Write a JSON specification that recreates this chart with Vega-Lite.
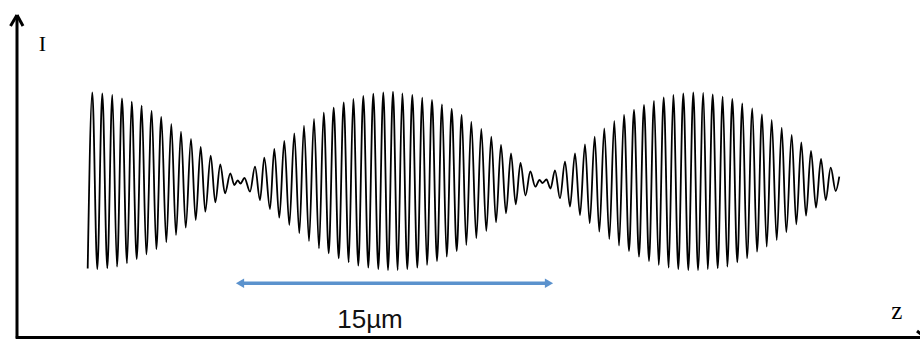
{
  "$schema": "https://vega.github.io/schema/vega-lite/v6.json",
  "width": 920,
  "height": 340,
  "autosize": {"type": "fit", "contains": "padding"},
  "padding": 0,
  "background": "white",
  "config": {"view": {"stroke": null}},
  "datasets": {
    "wave": [
      {"z": 3.535, "I": 0.685}, {"z": 3.765, "I": 2.447}, {"z": 4.015, "I": 0.68}, {"z": 4.265, "I": 2.437},
      {"z": 4.515, "I": 0.687}, {"z": 4.765, "I": 2.42}, {"z": 5.0, "I": 0.703}, {"z": 5.25, "I": 2.387},
      {"z": 5.5, "I": 0.737}, {"z": 5.735, "I": 2.353}, {"z": 5.985, "I": 0.78}, {"z": 6.235, "I": 2.313},
      {"z": 6.465, "I": 0.827}, {"z": 6.735, "I": 2.26}, {"z": 6.965, "I": 0.88}, {"z": 7.215, "I": 2.2},
      {"z": 7.465, "I": 0.947}, {"z": 7.715, "I": 2.13}, {"z": 7.95, "I": 1.02}, {"z": 8.2, "I": 2.053},
      {"z": 8.435, "I": 1.093}, {"z": 8.7, "I": 1.98}, {"z": 8.935, "I": 1.17}, {"z": 9.185, "I": 1.9},
      {"z": 9.415, "I": 1.253}, {"z": 9.685, "I": 1.813}, {"z": 9.915, "I": 1.347}, {"z": 10.165, "I": 1.727},
      {"z": 10.4, "I": 1.437}, {"z": 10.665, "I": 1.637}, {"z": 10.865, "I": 1.52}, {"z": 11.035, "I": 1.565},
      {"z": 11.175, "I": 1.535}, {"z": 11.375, "I": 1.59}, {"z": 11.65, "I": 1.453},
      {"z": 11.9, "I": 1.703}, {"z": 12.15, "I": 1.37}, {"z": 12.365, "I": 1.793}, {"z": 12.65, "I": 1.28},
      {"z": 12.865, "I": 1.88}, {"z": 13.115, "I": 1.193}, {"z": 13.365, "I": 1.96}, {"z": 13.615, "I": 1.12},
      {"z": 13.865, "I": 2.037}, {"z": 14.115, "I": 1.037}, {"z": 14.35, "I": 2.113}, {"z": 14.6, "I": 0.96},
      {"z": 14.85, "I": 2.18}, {"z": 15.1, "I": 0.887}, {"z": 15.335, "I": 2.243}, {"z": 15.585, "I": 0.837},
      {"z": 15.835, "I": 2.293}, {"z": 16.085, "I": 0.787}, {"z": 16.335, "I": 2.347}, {"z": 16.585, "I": 0.747},
      {"z": 16.815, "I": 2.38}, {"z": 17.065, "I": 0.713}, {"z": 17.315, "I": 2.41}, {"z": 17.565, "I": 0.693},
      {"z": 17.815, "I": 2.433}, {"z": 18.065, "I": 0.68}, {"z": 18.315, "I": 2.447}, {"z": 18.55, "I": 0.67},
      {"z": 18.8, "I": 2.453}, {"z": 19.035, "I": 0.67}, {"z": 19.265, "I": 2.437}, {"z": 19.515, "I": 0.68},
      {"z": 19.765, "I": 2.42}, {"z": 20.015, "I": 0.693}, {"z": 20.265, "I": 2.393}, {"z": 20.5, "I": 0.72},
      {"z": 20.75, "I": 2.37}, {"z": 21.0, "I": 0.76}, {"z": 21.25, "I": 2.327}, {"z": 21.485, "I": 0.803},
      {"z": 21.735, "I": 2.28}, {"z": 21.985, "I": 0.86}, {"z": 22.235, "I": 2.22}, {"z": 22.465, "I": 0.92},
      {"z": 22.715, "I": 2.153}, {"z": 22.965, "I": 0.987}, {"z": 23.215, "I": 2.08}, {"z": 23.465, "I": 1.06},
      {"z": 23.715, "I": 2.003}, {"z": 23.95, "I": 1.147}, {"z": 24.2, "I": 1.92}, {"z": 24.45, "I": 1.237},
      {"z": 24.7, "I": 1.837}, {"z": 24.935, "I": 1.327}, {"z": 25.175, "I": 1.74}, {"z": 25.425, "I": 1.415},
      {"z": 25.665, "I": 1.655}, {"z": 25.915, "I": 1.503}, {"z": 26.125, "I": 1.57}, {"z": 26.275, "I": 1.54},
      {"z": 26.475, "I": 1.575}, {"z": 26.675, "I": 1.485},
      {"z": 26.9, "I": 1.667}, {"z": 27.15, "I": 1.387}, {"z": 27.4, "I": 1.753}, {"z": 27.65, "I": 1.303},
      {"z": 27.9, "I": 1.837}, {"z": 28.15, "I": 1.22}, {"z": 28.4, "I": 1.927}, {"z": 28.635, "I": 1.137},
      {"z": 28.885, "I": 2.003}, {"z": 29.115, "I": 1.053}, {"z": 29.365, "I": 2.087}, {"z": 29.615, "I": 0.98},
      {"z": 29.865, "I": 2.16}, {"z": 30.1, "I": 0.913}, {"z": 30.35, "I": 2.22}, {"z": 30.6, "I": 0.86},
      {"z": 30.85, "I": 2.27}, {"z": 31.1, "I": 0.803}, {"z": 31.35, "I": 2.32}, {"z": 31.6, "I": 0.76},
      {"z": 31.85, "I": 2.36}, {"z": 32.085, "I": 0.72}, {"z": 32.335, "I": 2.397}, {"z": 32.585, "I": 0.693},
      {"z": 32.815, "I": 2.42}, {"z": 33.065, "I": 0.68}, {"z": 33.315, "I": 2.437}, {"z": 33.565, "I": 0.67},
      {"z": 33.815, "I": 2.447}, {"z": 34.05, "I": 0.67}, {"z": 34.315, "I": 2.442}, {"z": 34.535, "I": 0.68},
      {"z": 34.785, "I": 2.427}, {"z": 35.035, "I": 0.687}, {"z": 35.285, "I": 2.403}, {"z": 35.515, "I": 0.703},
      {"z": 35.765, "I": 2.38}, {"z": 36.015, "I": 0.747}, {"z": 36.265, "I": 2.337}, {"z": 36.5, "I": 0.787},
      {"z": 36.765, "I": 2.287}, {"z": 37.0, "I": 0.853}, {"z": 37.25, "I": 2.227}, {"z": 37.485, "I": 0.903},
      {"z": 37.735, "I": 2.17}, {"z": 37.985, "I": 0.97}, {"z": 38.235, "I": 2.093}, {"z": 38.465, "I": 1.047},
      {"z": 38.735, "I": 2.02}, {"z": 38.965, "I": 1.127}, {"z": 39.215, "I": 1.947}, {"z": 39.45, "I": 1.213},
      {"z": 39.7, "I": 1.86}, {"z": 39.95, "I": 1.293}, {"z": 40.2, "I": 1.78}, {"z": 40.435, "I": 1.37},
      {"z": 40.685, "I": 1.693}, {"z": 40.935, "I": 1.46}, {"z": 41.115, "I": 1.603}
    ],
    "axes": [
      {"z": 0, "I": -0.015, "z2": 0, "I2": 3.22},
      {"z": 0, "I": 3.22, "z2": -0.325, "I2": 3.11},
      {"z": 0, "I": 3.22, "z2": 0.3, "I2": 3.11},
      {"z": -0.06, "I": -0.005, "z2": 45.4, "I2": -0.005},
      {"z": 45.4, "I": -0.005, "z2": 45.0, "I2": 0.06}
    ],
    "span": [
      {"z": 11.3, "I": 0.537, "z2": 26.4, "I2": 0.537}
    ],
    "heads": [
      {"z": 11.15, "I": 0.537, "dir": "left"},
      {"z": 26.6, "I": 0.537, "dir": "right"}
    ],
    "ylab": [
      {"z": 1.275, "I": 2.863, "t": "I"}
    ],
    "xlab": [
      {"z": 43.985, "I": 0.185, "t": "z"}
    ],
    "sans": [
      {"z": 17.65, "I": 0.087, "t": "15µm"}
    ]
  },
  "layer": [
    {
      "data": {"name": "axes"},
      "mark": {"type": "rule", "color": "#000000", "strokeWidth": 3, "strokeCap": "butt", "clip": true},
      "encoding": {
        "x": {"field": "z", "type": "quantitative", "scale": {"domain": [-0.85, 45.15], "nice": false, "zero": false}, "axis": null},
        "y": {"field": "I", "type": "quantitative", "scale": {"domain": [-0.03, 3.37], "nice": false, "zero": false}, "axis": null},
        "x2": {"field": "z2"},
        "y2": {"field": "I2"}
      }
    },
    {
      "data": {"name": "wave"},
      "mark": {"type": "line", "color": "#000000", "strokeWidth": 1.8, "interpolate": "monotone"},
      "encoding": {
        "x": {"field": "z", "type": "quantitative", "scale": {"domain": [-0.85, 45.15], "nice": false, "zero": false}, "axis": null},
        "y": {"field": "I", "type": "quantitative", "scale": {"domain": [-0.03, 3.37], "nice": false, "zero": false}, "axis": null}
      }
    },
    {
      "data": {"name": "span"},
      "mark": {"type": "rule", "color": "#5b92cd", "strokeWidth": 3.5},
      "encoding": {
        "x": {"field": "z", "type": "quantitative", "scale": {"domain": [-0.85, 45.15], "nice": false, "zero": false}, "axis": null},
        "y": {"field": "I", "type": "quantitative", "scale": {"domain": [-0.03, 3.37], "nice": false, "zero": false}, "axis": null},
        "x2": {"field": "z2"},
        "y2": {"field": "I2"}
      }
    },
    {
      "data": {"name": "heads"},
      "mark": {"type": "point", "filled": true, "color": "#5b92cd", "size": 90, "opacity": 1},
      "encoding": {
        "x": {"field": "z", "type": "quantitative", "scale": {"domain": [-0.85, 45.15], "nice": false, "zero": false}, "axis": null},
        "y": {"field": "I", "type": "quantitative", "scale": {"domain": [-0.03, 3.37], "nice": false, "zero": false}, "axis": null},
        "shape": {"field": "dir", "type": "nominal", "scale": {"domain": ["left", "right"], "range": ["triangle-left", "triangle-right"]}, "legend": null}
      }
    },
    {
      "data": {"name": "ylab"},
      "mark": {"type": "text", "font": "Liberation Serif", "fontSize": 22, "color": "#000000", "align": "center", "baseline": "alphabetic"},
      "encoding": {
        "x": {"field": "z", "type": "quantitative", "scale": {"domain": [-0.85, 45.15], "nice": false, "zero": false}, "axis": null},
        "y": {"field": "I", "type": "quantitative", "scale": {"domain": [-0.03, 3.37], "nice": false, "zero": false}, "axis": null},
        "text": {"field": "t"}
      }
    },
    {
      "data": {"name": "xlab"},
      "mark": {"type": "text", "font": "Liberation Serif", "fontSize": 25, "color": "#000000", "align": "center", "baseline": "alphabetic"},
      "encoding": {
        "x": {"field": "z", "type": "quantitative", "scale": {"domain": [-0.85, 45.15], "nice": false, "zero": false}, "axis": null},
        "y": {"field": "I", "type": "quantitative", "scale": {"domain": [-0.03, 3.37], "nice": false, "zero": false}, "axis": null},
        "text": {"field": "t"}
      }
    },
    {
      "data": {"name": "sans"},
      "mark": {"type": "text", "font": "Liberation Sans", "fontSize": 26, "color": "#111111", "align": "center", "baseline": "alphabetic"},
      "encoding": {
        "x": {"field": "z", "type": "quantitative", "scale": {"domain": [-0.85, 45.15], "nice": false, "zero": false}, "axis": null},
        "y": {"field": "I", "type": "quantitative", "scale": {"domain": [-0.03, 3.37], "nice": false, "zero": false}, "axis": null},
        "text": {"field": "t"}
      }
    }
  ]
}
